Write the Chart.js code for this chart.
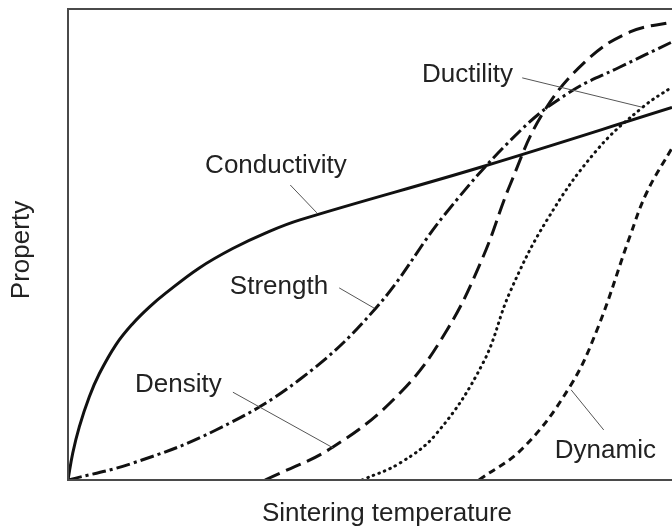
<!DOCTYPE html>
<html>
<head>
<meta charset="utf-8">
<script src="https://cdn.jsdelivr.net/npm/chart.js@4.4.1/dist/chart.umd.min.js"></script>
<style>
    html, body { margin: 0; padding: 0; background: #ffffff; overflow: hidden; }
    #wrap { width: 672px; height: 530px; position: relative; }
</style>
</head>
<body>
<div id="wrap"><canvas id="sinter-chart"></canvas></div>
<script>
// Sintering temperature (x, 0-100) vs property (y, 0-100)
const conductivity = [
    [0, 0], [0.78, 5.68], [1.87, 11.27], [3.53, 17.63], [5.18, 22.5],
    [7.95, 28.69], [10.71, 33.11], [13.46, 36.63], [16.23, 39.64],
    [21.74, 44.94], [27.27, 49.05], [32.78, 52.37], [38.41, 55.11],
    [68.71, 66.42], [100, 78.92]
];
const strength = [
    [0, 0], [10.76, 3.6], [24.5, 10.59], [38.25, 21.19], [50.99, 36.44],
    [62.58, 56.57], [74.83, 73.94], [83.11, 82.2], [91.39, 87.5], [100, 92.8]
];
const density = [
    [32.62, 0], [43.87, 6.99], [54.97, 18.43], [62.75, 31.78], [68.71, 47.25],
    [73.18, 62.5], [78.64, 77.75], [85.93, 88.98], [93.05, 94.92], [100, 97.03]
];
const ductility = [
    [48.68, 0], [54.97, 3.6], [61.09, 9.96], [68.71, 24.79], [73.18, 39.83],
    [79.3, 55.08], [87.58, 69.92], [95.2, 79.03], [100, 83.26]
];
const dynamic = [
    [68.05, 0], [75.33, 6.78], [82.95, 19.49], [87.58, 31.78], [93.05, 51.69],
    [95.86, 61.02], [100, 70.34]
];

const seriesNames = ["Conductivity", "Strength", "Density", "Ductility", "Dynamic"];
const xTitle = "Sintering temperature";
const yTitle = "Property";

// label text anchor (left, baseline) and leader line ends, in data units
const labelSpots = [
    { text: "Conductivity", at: [22.7, 65.0], lead: [[36.8, 62.5], [41.2, 56.6]] },
    { text: "Strength", at: [26.8, 39.4], lead: [[44.9, 40.7], [50.7, 36.4]] },
    { text: "Density", at: [11.1, 18.6], lead: [[27.3, 18.6], [43.9, 6.8]] },
    { text: "Ductility", at: [58.6, 84.3], lead: [[75.2, 85.2], [95.0, 79.0]] },
    { text: "Dynamic", at: [80.6, 4.7], lead: [[83.3, 19.1], [88.7, 10.6]] }
];

const INK = "#111111";
const TEXT = "#222222";
const FONT = '26px "Liberation Sans", Arial, sans-serif';

const toPoints = (pairs) => pairs.map(([x, y]) => ({ x, y }));

function makeSet(label, pairs, dash, cap) {
    return {
        label: label,
        data: toPoints(pairs),
        borderColor: INK,
        borderWidth: 3,
        borderDash: dash,
        borderCapStyle: cap || "butt",
        pointRadius: 0,
        fill: false,
        tension: 0.4
    };
}

// frame, axis titles and curve labels
const decorations = {
    id: "decorations",
    afterDatasetsDraw(chart) {
        const { ctx, chartArea, scales } = chart;
        const px = (v) => scales.x.getPixelForValue(v);
        const py = (v) => scales.y.getPixelForValue(v);

        ctx.save();
        // leader lines
        ctx.strokeStyle = "#555555";
        ctx.lineWidth = 1;
        labelSpots.forEach((s) => {
            ctx.beginPath();
            ctx.moveTo(px(s.lead[0][0]), py(s.lead[0][1]));
            ctx.lineTo(px(s.lead[1][0]), py(s.lead[1][1]));
            ctx.stroke();
        });

        // open frame: top, left, bottom
        ctx.strokeStyle = "#4a4a4a";
        ctx.lineWidth = 2;
        ctx.beginPath();
        ctx.moveTo(chartArea.right + 2, chartArea.top + 1);
        ctx.lineTo(chartArea.left, chartArea.top + 1);
        ctx.lineTo(chartArea.left, chartArea.bottom);
        ctx.lineTo(chartArea.right + 2, chartArea.bottom);
        ctx.stroke();

        // curve labels
        ctx.fillStyle = TEXT;
        ctx.font = FONT;
        ctx.textAlign = "left";
        ctx.textBaseline = "alphabetic";
        labelSpots.forEach((s) => {
            ctx.fillText(s.text, px(s.at[0]), py(s.at[1]));
        });

        // axis titles
        ctx.textAlign = "center";
        ctx.fillText(xTitle, chartArea.left + 319, chartArea.bottom + 41);
        ctx.translate(29, chartArea.top + 242);
        ctx.rotate(-Math.PI / 2);
        ctx.fillText(yTitle, 0, 0);
        ctx.restore();
    }
};

new Chart(document.getElementById("sinter-chart"), {
    type: "line",
    data: {
        datasets: [
            makeSet(seriesNames[0], conductivity, []),
            makeSet(seriesNames[1], strength, [14, 4, 3, 4]),
            makeSet(seriesNames[2], density, [16, 7]),
            makeSet(seriesNames[3], ductility, [0.6, 5.4], "round"),
            makeSet(seriesNames[4], dynamic, [7, 5])
        ]
    },
    options: {
        responsive: true,
        maintainAspectRatio: false,
        animation: false,
        layout: { padding: { left: 68, top: 8, right: 0, bottom: 50 } },
        plugins: {
            legend: { display: false },
            tooltip: { enabled: false }
        },
        scales: {
            x: { type: "linear", min: 0, max: 100, display: false },
            y: { type: "linear", min: 0, max: 100, display: false }
        }
    },
    plugins: [decorations]
});
</script>
</body>
</html>
